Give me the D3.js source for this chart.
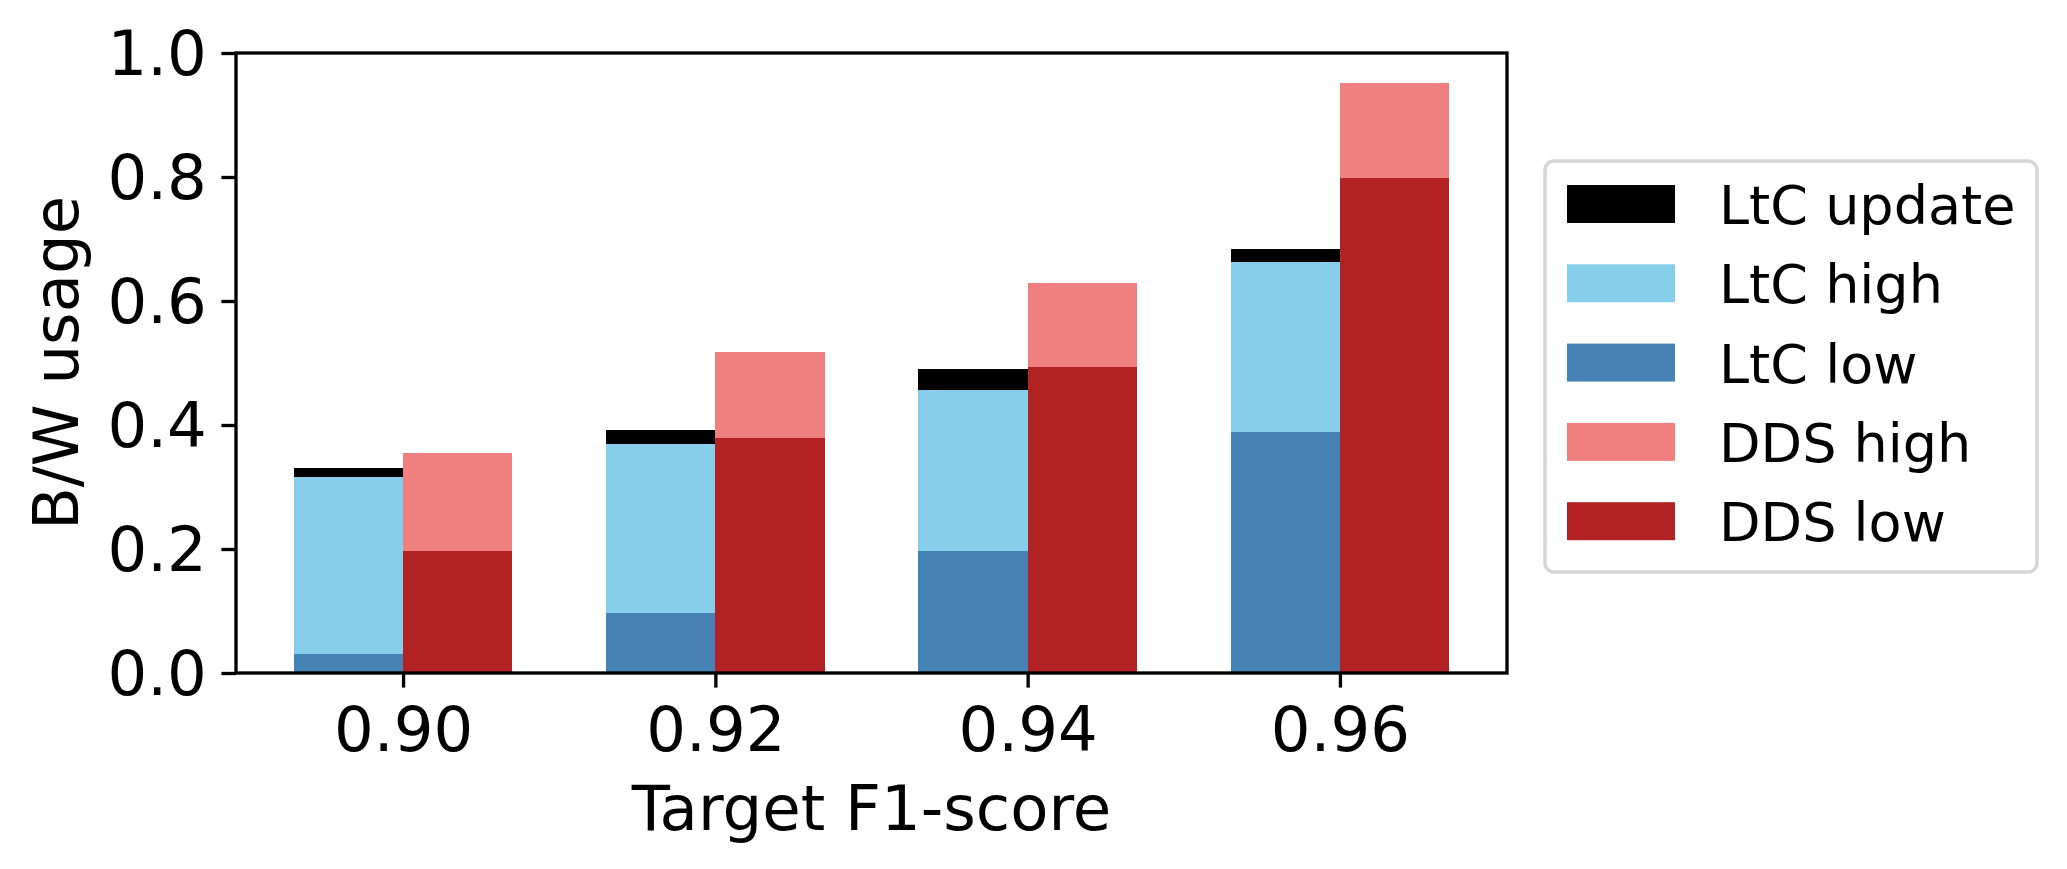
<!DOCTYPE html>
<html><head><meta charset="utf-8">
<script src="https://cdn.jsdelivr.net/npm/d3@7"></script>
<style>html,body{margin:0;padding:0;background:#fff;} svg{display:block;font-family:"DejaVu Sans",sans-serif;}</style>
</head><body>
<svg id="chart" width="2067" height="869"></svg>
<script>
// ---- data ----
const categories = ["0.90", "0.92", "0.94", "0.96"];
const ltcLow    = [0.031, 0.097, 0.197, 0.389];
const ltcHigh   = [0.285, 0.272, 0.259, 0.274];
const ltcUpdate = [0.015, 0.023, 0.034, 0.021];
const ddsLow    = [0.197, 0.379, 0.4935, 0.798];
const ddsHigh   = [0.158, 0.138, 0.1355, 0.154];
const yTicks = [0, 0.2, 0.4, 0.6, 0.8, 1.0];
const legendLabels = ["LtC update", "LtC high", "LtC low", "DDS high", "DDS low"];
const colors = {"LtC update":"#000000","LtC high":"#87CEEB","LtC low":"#4682B4","DDS high":"#F08080","DDS low":"#B22222"};

// ---- layout ----
const svg = d3.select("#chart");
const L = 236, R = 1507, T = 53, B = 673;
const bw = 0.35;
const dmin = -bw, dmax = categories.length - 1 + bw, m = 0.05 * (dmax - dmin);
const x = d3.scaleLinear().domain([dmin - m, dmax + m]).range([L, R]);
const y = d3.scaleLinear().domain([0, 1]).range([B, T]);
const fs = 62.5, lw = 3.33, tickLen = 14.6;

const rows = categories.map((c, i) => ({i, "LtC low": ltcLow[i], "LtC high": ltcHigh[i], "LtC update": ltcUpdate[i], "DDS low": ddsLow[i], "DDS high": ddsHigh[i]}));
const ltcStack = d3.stack().keys(["LtC low", "LtC high", "LtC update"])(rows);
const ddsStack = d3.stack().keys(["DDS low", "DDS high"])(rows);

const g = svg.append("g").attr("shape-rendering", "crispEdges");
function drawStack(stack, offset) {
  stack.forEach(layer => {
    g.selectAll(null).data(layer).enter().append("rect")
      .attr("x", d => x(d.data.i + offset))
      .attr("width", x(bw) - x(0))
      .attr("y", d => y(d[1]))
      .attr("height", d => y(d[0]) - y(d[1]))
      .attr("fill", colors[layer.key]);
  });
}
drawStack(ltcStack, -bw);
drawStack(ddsStack, 0);

// axes
const xAxis = d3.axisBottom(x).tickValues(categories.map((c, i) => i)).tickFormat(i => categories[i]).tickSize(tickLen).tickPadding(14.6);
const yAxis = d3.axisLeft(y).tickValues(yTicks).tickFormat(d3.format(".1f")).tickSize(tickLen).tickPadding(14.6);
const gx = svg.append("g").attr("transform", `translate(0,${B})`).call(xAxis);
const gy = svg.append("g").attr("transform", `translate(${L},0)`).call(yAxis);
[gx, gy].forEach(a => {
  a.select(".domain").remove();
  a.selectAll(".tick line").attr("stroke", "#000").attr("stroke-width", lw);
  a.selectAll(".tick text").attr("font-size", fs).attr("fill", "#000").attr("font-family", "DejaVu Sans");
});
gx.selectAll(".tick text").attr("dy", null).attr("y", 78).attr("dominant-baseline", "alphabetic");
gy.selectAll(".tick text").attr("dy", null).attr("dominant-baseline", "central");

// frame
svg.append("rect").attr("x", L).attr("y", T).attr("width", R - L).attr("height", B - T)
  .attr("fill", "none").attr("stroke", "#000").attr("stroke-width", lw);

// axis labels
svg.append("text").attr("x", (L + R) / 2).attr("y", 830).attr("text-anchor", "middle")
  .attr("font-size", fs).text("Target F1-score");
svg.append("text").attr("transform", `translate(78,${(T + B) / 2}) rotate(-90)`).attr("text-anchor", "middle")
  .attr("font-size", fs).text("B/W usage");

// legend
const lg = svg.append("g");
lg.append("rect").attr("x", 1545).attr("y", 161).attr("width", 492).attr("height", 411)
  .attr("rx", 9).attr("fill", "#fff").attr("stroke", "#d6d6d6").attr("stroke-width", 3.5);
const lfs = 54;
legendLabels.forEach((lab, k) => {
  const cy = 204 + k * 79.3;
  lg.append("rect").attr("x", 1567).attr("y", cy - 19).attr("width", 108).attr("height", 38).attr("fill", colors[lab]);
  lg.append("text").attr("x", 1719).attr("y", cy + 20).attr("font-size", lfs).text(lab);
});
</script>
</body></html>
